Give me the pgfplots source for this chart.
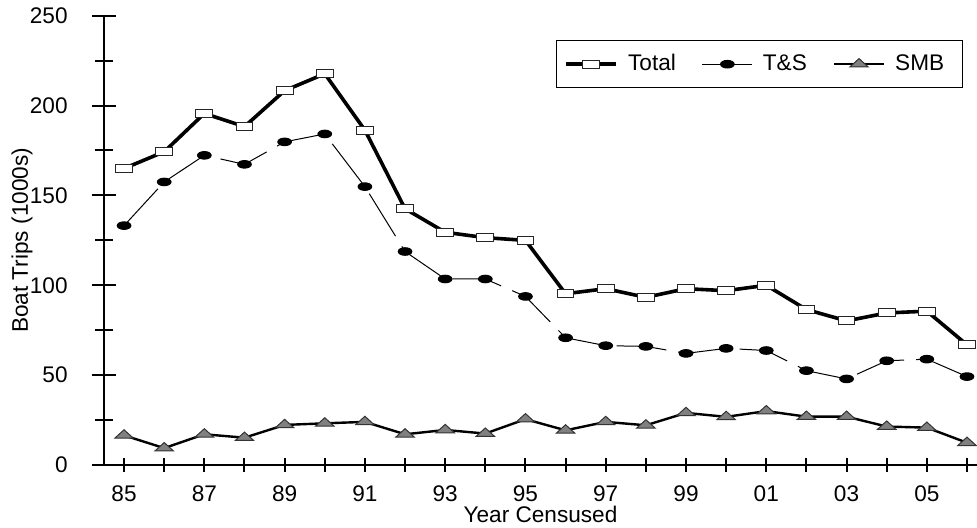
\documentclass[border=0pt]{standalone}
\usepackage{pgfplots}
\pgfplotsset{compat=1.18}
\usepackage{fontspec}
\setmainfont{Liberation Sans}
\begin{document}
\begin{tikzpicture}[font=\fontsize{11.3}{13.5}\selectfont]
\begin{axis}[
  scale only axis,
  width=436.5pt, height=224.65pt,
  xmin=84.5, xmax=106.25, ymin=0, ymax=250,
  axis x line=bottom, axis y line=left,
  axis line style={-, line width=1.3pt},
  clip=false,
  tick align=center,
  major tick length=12pt, minor tick length=8.5pt,
  tick style={black, line width=1pt},
  xtick style={/pgfplots/major tick length=7pt},
  xtick={85,...,106},
  xticklabels={85,,87,,89,,91,,93,,95,,97,,99,,01,,03,,05,},
  ytick={0,50,...,250},
  minor y tick num=1,
  /pgf/number format/assume math mode=true,
  xticklabel style={anchor=north, inner sep=0pt, yshift=-4.3pt, font=\fontsize{11.3}{13.5}\selectfont},
  yticklabel style={anchor=east, inner sep=0pt, xshift=-12pt, font=\fontsize{11.3}{13.5}\selectfont},
  xlabel={Year Censused}, ylabel={Boat Trips (1000s)},
  every axis x label/.style={at={(axis description cs:0.5,0)}, anchor=base, inner sep=0pt, yshift=-28.6pt, font=\fontsize{11.3}{13.5}\selectfont},
  every axis y label/.style={at={(axis description cs:-0.094,0.5)}, anchor=center, rotate=90, inner sep=0pt, font=\fontsize{11.3}{13.5}\selectfont},
  legend columns=3,
  legend style={at={(axis description cs:0.5178,0.9459)}, anchor=north west,
    draw=black, line width=0.5pt, inner xsep=4pt, inner ysep=5pt,
    font=\fontsize{11.3}{13.5}\selectfont,
    /tikz/every even column/.append style={column sep=8pt},
    nodes={inner xsep=5pt}},
  legend image code/.code={\draw[mark repeat=2, mark phase=2, #1] plot coordinates {(0pt,0pt) (12.5pt,0pt) (25pt,0pt)};},
]
\addplot[black, line width=1.8pt, mark=square*, mark size=2pt,
  mark options={solid, fill=white, draw=black!85, line width=0.5pt, xscale=2.1}]
coordinates {(85,165) (86,174.3) (87,195.6) (88,188.3) (89,208.3) (90,217.7) (91,186.3) (92,142.6) (93,129.5) (94,126.5) (95,125) (96,95.3) (97,98.1) (98,93.3) (99,98.1) (100,97) (101,100) (102,86.5) (103,80.2) (104,84.6) (105,85.6) (106,66.9)};
\addlegendentry{Total}
\addplot[black, line width=0.5pt, dash pattern=on 25pt off 6pt, mark=*, mark size=1.9pt,
  mark options={solid, fill=black, xscale=1.8}]
coordinates {(85,133.2) (86,157.5) (87,172.3) (88,167.3) (89,179.8) (90,184.2) (91,154.9) (92,118.8) (93,103.5) (94,103.5) (95,93.8) (96,70.8) (97,66.4) (98,66) (99,62.1) (100,64.9) (101,63.7) (102,52.5) (103,47.9) (104,58) (105,58.9) (106,49.2)};
\addlegendentry{T\&S}
\addplot[black, line width=1.2pt, mark=triangle*, mark size=2.8pt,
  mark options={solid, fill=black!50, draw=black!80, line width=0.5pt, xscale=1.9}]
coordinates {(85,16.5) (86,9.4) (87,17.1) (88,15.2) (89,22.3) (90,23.2) (91,24.0) (92,17.1) (93,19.5) (94,17.5) (95,25.5) (96,19.3) (97,24.0) (98,22.1) (99,29.0) (100,26.8) (101,30.0) (102,26.9) (103,26.9) (104,21.4) (105,20.8) (106,12.4)};
\addlegendentry{SMB}
\end{axis}
\pgfresetboundingbox
\path (-52pt,-31pt) rectangle (436.5pt,232.5pt);
\end{tikzpicture}
\end{document}
